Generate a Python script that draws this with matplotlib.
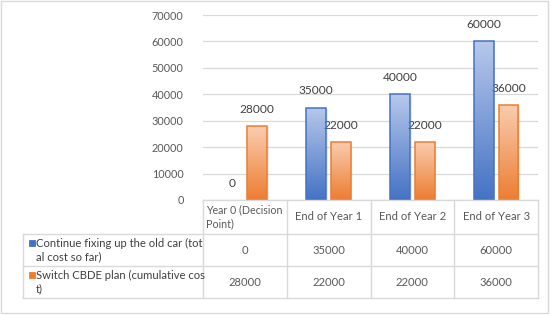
import numpy as np
import matplotlib.pyplot as plt
from matplotlib.colors import LinearSegmentedColormap
from matplotlib.patches import Rectangle

categories = ['Year 0 (Decision\nPoint)', 'End of Year 1', 'End of Year 2', 'End of Year 3']
series_names = ['Continue fixing up the old car (total cost so far)',
                'Switch CBDE plan (cumulative cost)']
old_car = [0, 35000, 40000, 60000]
cbde = [28000, 22000, 22000, 36000]
yticks = [0, 10000, 20000, 30000, 40000, 50000, 60000, 70000]

plt.rcParams['font.family'] = ['Lato', 'DejaVu Sans']

W, H = 553, 315
fig = plt.figure(figsize=(W / 100, H / 100), dpi=100)
fig.patch.set_facecolor('white')

# plot area in pixels
px_left, px_right, px_top, px_bottom = 203, 538, 15, 200
ax = fig.add_axes([px_left / W, 1 - px_bottom / H, (px_right - px_left) / W, (px_bottom - px_top) / H])
ax.set_xlim(-0.5, len(categories) - 0.5)
ax.set_ylim(0, 70000)
ax.set_yticks(yticks)
ax.set_yticklabels([str(v) for v in yticks], color='#595959', fontsize=7.8)
ax.tick_params(axis='y', length=0, pad=14)
ax.set_xticks([])
for s in ax.spines.values():
    s.set_visible(False)
ax.grid(axis='y', color='#d9d9d9', linewidth=0.9)
ax.set_axisbelow(True)

series = [old_car, cbde]
edge_colors = ['#4472c4', '#ed7d31']
top_colors = ['#b7c8eb', '#f9cdb0']
width = 0.235
gap = 0.06
x = np.arange(len(categories))
offsets = [-(width + gap) / 2, (width + gap) / 2]

for vals, off, ec, tc in zip(series, offsets, edge_colors, top_colors):
    cmap = LinearSegmentedColormap.from_list('g', [ec, tc])
    grad = np.linspace(0, 1, 256).reshape(-1, 1)
    for xi, v in zip(x, vals):
        if v > 0:
            # faint shadow
            ax.add_patch(Rectangle((xi + off - width / 2 + 0.02, 0), width, v - 500,
                                   facecolor='#000000', alpha=0.08, edgecolor='none', zorder=2))
            bar = ax.bar(xi + off, v, width, facecolor='none', edgecolor=ec, linewidth=1.1, zorder=4)[0]
            im = ax.imshow(grad, cmap=cmap, aspect='auto', origin='lower',
                           extent=(xi + off - width / 2, xi + off + width / 2, 0, v), zorder=3)
            im.set_clip_path(bar)
        ax.annotate(str(v), (xi + off, v), xytext=(0, 8), textcoords='offset points',
                    ha='center', va='bottom', fontsize=8.6, color='#404040')

# data table below the plot, drawn in pixel coordinates
tab = fig.add_axes([0, 0, 1, 1])
tab.set_xlim(0, W)
tab.set_ylim(H, 0)
tab.axis('off')
tab.patch.set_alpha(0)

line_c = '#d9d9d9'
col_w = (px_right - px_left) / len(categories)
col_edges = [px_left + i * col_w for i in range(len(categories) + 1)]
row_edges = [200, 234, 266, 298]
tab_left = 23

tab.plot([px_left, px_right], [row_edges[0]] * 2, color=line_c, lw=1)
for r in row_edges[1:]:
    tab.plot([tab_left, px_right], [r, r], color=line_c, lw=1)
for c in col_edges:
    tab.plot([c, c], [row_edges[0], row_edges[-1]], color=line_c, lw=1)
tab.plot([tab_left, tab_left], [row_edges[1], row_edges[-1]], color=line_c, lw=1)

# outer chart border
tab.add_patch(Rectangle((1, 1), W - 6, H - 3, fill=False, edgecolor='#d9d9d9', lw=1))

fs = 8.1
for i, cat in enumerate(categories):
    yc = (row_edges[0] + row_edges[1]) / 2
    if '\n' in cat:
        tab.text(col_edges[i] + 3, yc, cat, ha='left', va='center', fontsize=7.7,
                 color='#595959', linespacing=1.3)
    else:
        tab.text((col_edges[i] + col_edges[i + 1]) / 2, yc, cat, ha='center', va='center',
                 fontsize=fs, color='#595959')

splits = [35, 32]
for r, (name, vals, ec, sp) in enumerate(zip(series_names, series, edge_colors, splits)):
    y0, y1 = row_edges[r + 1], row_edges[r + 2]
    yc = (y0 + y1) / 2
    label = name[:sp] + '\n' + name[sp:]
    tab.add_patch(Rectangle((29, y0 + 6), 5.5, 5.5, facecolor=ec, edgecolor=ec, lw=0.6))
    tab.text(36, yc, label, ha='left', va='center', fontsize=fs, color='#404040', linespacing=1.3)
    for i, v in enumerate(vals):
        tab.text((col_edges[i] + col_edges[i + 1]) / 2, yc, str(v), ha='center', va='center',
                 fontsize=fs, color='#595959')

fig.savefig('out.png', dpi=100)
